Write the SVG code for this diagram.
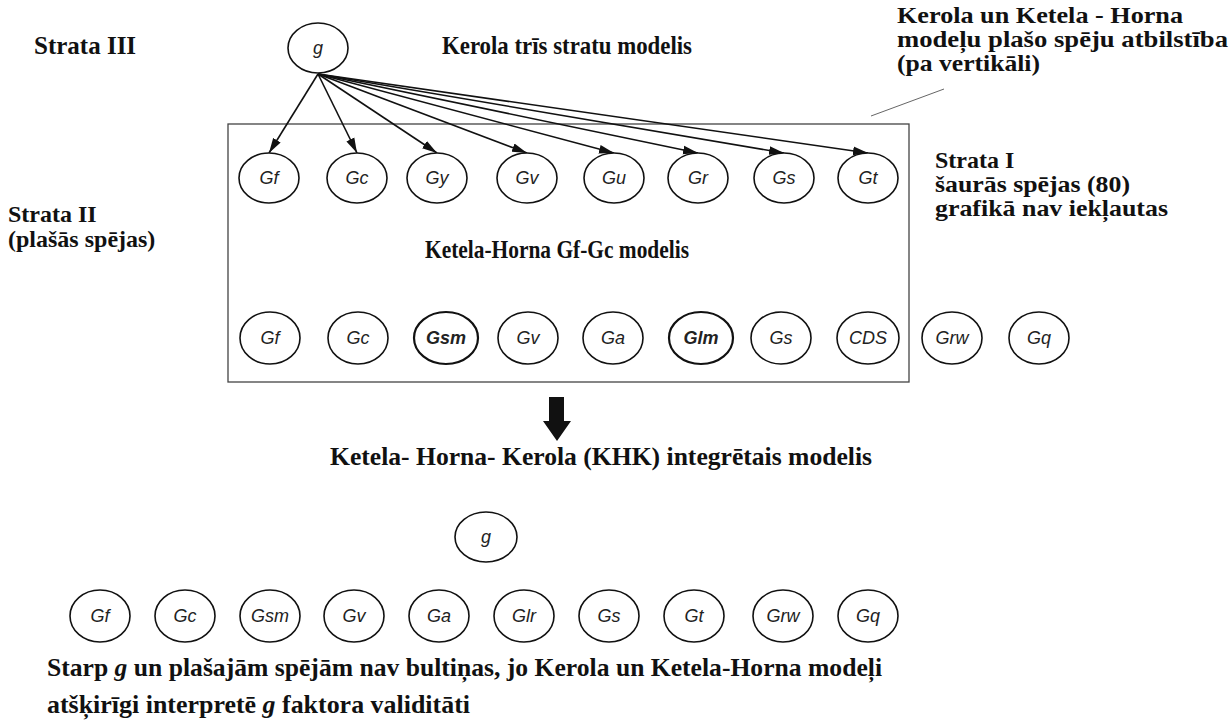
<svg xmlns="http://www.w3.org/2000/svg" width="1232" height="721" viewBox="0 0 1232 721">
<style>
.t{font-family:"Liberation Serif","Times New Roman",serif;font-weight:bold;font-size:25px;fill:#111}
.s{font-size:24px}
.n{fill:#fff;stroke:#111;stroke-width:1.6}
.nb{fill:#fff;stroke:#111;stroke-width:2.2}
.l{font-family:"Liberation Sans",Arial,sans-serif;font-style:italic;font-size:18px;fill:#222;text-anchor:middle}
.lb{font-weight:bold}
.e{stroke:#111;stroke-width:1.6;fill:none;marker-end:url(#ah)}
</style>
<defs>
<marker id="ah" markerUnits="userSpaceOnUse" markerWidth="16" markerHeight="10" refX="15" refY="5" orient="auto">
<path d="M0,0.6 L15,5 L0,9.4 z" fill="#111"/>
</marker>
</defs>
<rect width="1232" height="721" fill="#fff"/>

<g id="labels">
<text class="t" x="34" y="54">Strata III</text>
<text class="t" x="442" y="54" font-size="23" textLength="250" lengthAdjust="spacingAndGlyphs">Kerola trīs stratu modelis</text>
<text class="t s" x="897" y="23" textLength="286" lengthAdjust="spacingAndGlyphs">Kerola un Ketela - Horna</text>
<text class="t s" x="897" y="47" textLength="331" lengthAdjust="spacingAndGlyphs">modeļu plašo spēju atbilstība</text>
<text class="t s" x="897" y="71" textLength="143" lengthAdjust="spacingAndGlyphs">(pa vertikāli)</text>
<text class="t s" x="935" y="168">Strata I</text>
<text class="t s" x="935" y="192" textLength="195" lengthAdjust="spacingAndGlyphs">šaurās spējas (80)</text>
<text class="t s" x="935" y="216" textLength="233" lengthAdjust="spacingAndGlyphs">grafikā nav iekļautas</text>
<text class="t s" x="8" y="222">Strata II</text>
<text class="t s" x="8" y="247">(plašās spējas)</text>
<text class="t" x="425" y="258" font-size="23" textLength="264" lengthAdjust="spacingAndGlyphs">Ketela-Horna Gf-Gc modelis</text>
<text class="t" x="330" y="465" textLength="542" lengthAdjust="spacingAndGlyphs">Ketela- Horna- Kerola (KHK) integrētais modelis</text>
<text class="t" x="47" y="676" textLength="835" lengthAdjust="spacingAndGlyphs">Starp <tspan font-style="italic">g</tspan> un plašajām spējām nav bultiņas, jo Kerola un Ketela-Horna modeļi</text>
<text class="t" x="47" y="713" textLength="423" lengthAdjust="spacingAndGlyphs">atšķirīgi interpretē <tspan font-style="italic">g</tspan> faktora validitāti</text>
</g>

<g id="box">
<rect x="228" y="124" width="681" height="258" fill="none" stroke="#444" stroke-width="1.3"/>
<line x1="871" y1="116" x2="944" y2="89" stroke="#666" stroke-width="1"/>
</g>

<g id="connectors">
<path class="e" d="M318,74 L269,153"/>
<path class="e" d="M318,74 L357,153"/>
<path class="e" d="M318,74 L437,153"/>
<path class="e" d="M318,74 L527,153"/>
<path class="e" d="M318,74 L614,153"/>
<path class="e" d="M318,74 L698,153"/>
<path class="e" d="M318,74 L784,153"/>
<path class="e" d="M318,74 L868,153"/>
<path d="M549,397 H564 V421 H571 L557,441 L543,421 H549 Z" fill="#111"/>
</g>

<g id="node-g-top"><ellipse class="n" cx="318" cy="48" rx="30" ry="25"/><text class="l" x="318" y="54">g</text></g>

<g id="row1">
<g id="r1-Gf"><ellipse class="n" cx="269" cy="178" rx="30" ry="25"/><text class="l" x="269" y="184">Gf</text></g>
<g id="r1-Gc"><ellipse class="n" cx="357" cy="178" rx="30" ry="25"/><text class="l" x="357" y="184">Gc</text></g>
<g id="r1-Gy"><ellipse class="n" cx="437" cy="178" rx="30" ry="25"/><text class="l" x="437" y="184">Gy</text></g>
<g id="r1-Gv"><ellipse class="n" cx="527" cy="178" rx="30" ry="25"/><text class="l" x="527" y="184">Gv</text></g>
<g id="r1-Gu"><ellipse class="n" cx="614" cy="178" rx="30" ry="25"/><text class="l" x="614" y="184">Gu</text></g>
<g id="r1-Gr"><ellipse class="n" cx="698" cy="178" rx="30" ry="25"/><text class="l" x="698" y="184">Gr</text></g>
<g id="r1-Gs"><ellipse class="n" cx="784" cy="178" rx="30" ry="25"/><text class="l" x="784" y="184">Gs</text></g>
<g id="r1-Gt"><ellipse class="n" cx="868" cy="178" rx="30" ry="25"/><text class="l" x="868" y="184">Gt</text></g>
</g>

<g id="row2">
<g id="r2-Gf"><ellipse class="n" cx="270" cy="338" rx="30" ry="26"/><text class="l" x="270" y="344">Gf</text></g>
<g id="r2-Gc"><ellipse class="n" cx="358" cy="338" rx="30" ry="26"/><text class="l" x="358" y="344">Gc</text></g>
<g id="r2-Gsm"><ellipse class="nb" cx="446" cy="338" rx="32" ry="26"/><text class="l lb" x="446" y="344">Gsm</text></g>
<g id="r2-Gv"><ellipse class="n" cx="528" cy="338" rx="30" ry="26"/><text class="l" x="528" y="344">Gv</text></g>
<g id="r2-Ga"><ellipse class="n" cx="613" cy="338" rx="30" ry="26"/><text class="l" x="613" y="344">Ga</text></g>
<g id="r2-Glm"><ellipse class="nb" cx="701" cy="338" rx="32" ry="26"/><text class="l lb" x="701" y="344">Glm</text></g>
<g id="r2-Gs"><ellipse class="n" cx="781" cy="338" rx="30" ry="26"/><text class="l" x="781" y="344">Gs</text></g>
<g id="r2-CDS"><ellipse class="n" cx="868" cy="338" rx="31" ry="26"/><text class="l" x="868" y="344">CDS</text></g>
<g id="r2-Grw"><ellipse class="n" cx="952" cy="338" rx="30" ry="26"/><text class="l" x="952" y="344">Grw</text></g>
<g id="r2-Gq"><ellipse class="n" cx="1039" cy="338" rx="30" ry="26"/><text class="l" x="1039" y="344">Gq</text></g>
</g>

<g id="node-g-bottom"><ellipse class="n" cx="486" cy="537" rx="31" ry="25"/><text class="l" x="486" y="543">g</text></g>

<g id="row3">
<g id="r3-Gf"><ellipse class="n" cx="100" cy="616" rx="30" ry="26"/><text class="l" x="100" y="622">Gf</text></g>
<g id="r3-Gc"><ellipse class="n" cx="185" cy="616" rx="30" ry="26"/><text class="l" x="185" y="622">Gc</text></g>
<g id="r3-Gsm"><ellipse class="n" cx="270" cy="616" rx="30" ry="26"/><text class="l" x="270" y="622">Gsm</text></g>
<g id="r3-Gv"><ellipse class="n" cx="354" cy="616" rx="30" ry="26"/><text class="l" x="354" y="622">Gv</text></g>
<g id="r3-Ga"><ellipse class="n" cx="439" cy="616" rx="30" ry="26"/><text class="l" x="439" y="622">Ga</text></g>
<g id="r3-Glr"><ellipse class="n" cx="524" cy="616" rx="30" ry="26"/><text class="l" x="524" y="622">Glr</text></g>
<g id="r3-Gs"><ellipse class="n" cx="609" cy="616" rx="30" ry="26"/><text class="l" x="609" y="622">Gs</text></g>
<g id="r3-Gt"><ellipse class="n" cx="694" cy="616" rx="30" ry="26"/><text class="l" x="694" y="622">Gt</text></g>
<g id="r3-Grw"><ellipse class="n" cx="783" cy="616" rx="30" ry="26"/><text class="l" x="783" y="622">Grw</text></g>
<g id="r3-Gq"><ellipse class="n" cx="868" cy="616" rx="30" ry="26"/><text class="l" x="868" y="622">Gq</text></g>
</g>
</svg>
